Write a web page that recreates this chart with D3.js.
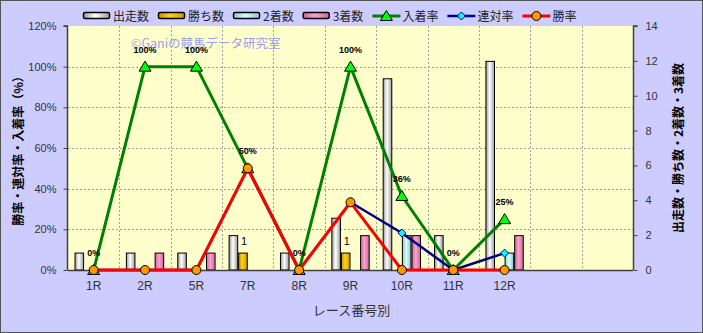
<!DOCTYPE html>
<html>
<head>
<meta charset="utf-8">
<script src="https://cdn.jsdelivr.net/npm/d3@7"></script>
<style>
  body { margin: 0; background: #ccccff; }
  svg { display: block; }
</style>
</head>
<body>
<svg id="chart" width="703" height="333"></svg>
<script>
// race categories (two empty slots at the end of the axis)
var races = ["1R", "2R", "5R", "7R", "8R", "9R", "10R", "11R", "12R"];
var slotCount = 11;

// bar series (right axis, counts)
var starts  = [1, 1, 1, 2, 1, 3, 11, 2, 12];
var wins    = [0, 0, 0, 1, 0, 1, 0, 0, 0];
var seconds = [0, 0, 0, 0, 0, 0, 2, 0, 1];
var thirds  = [0, 1, 1, 0, 0, 2, 2, 0, 2];

// line series (left axis, %)
var placeRate  = [0, 100, 100, 50, 0, 100, 36.4, 0, 25];
var rentaiRate = [0, 0, 0, 50, 0, 33.3, 18.2, 0, 8.3];
var winRate    = [0, 0, 0, 50, 0, 33.3, 0, 0, 0];

var leftTicks = [0, 20, 40, 60, 80, 100, 120];
var rightTicks = [0, 2, 4, 6, 8, 10, 12, 14];

var margin = {left: 68, right: 70, top: 26, bottom: 63};
var W = 703, H = 333;
var pLeft = margin.left, pRight = W - margin.right, pTop = margin.top, pBottom = H - margin.bottom;

var svg = d3.select("#chart");
var font = "'Liberation Sans', 'Noto Sans CJK JP', sans-serif";
var jfont = "'Noto Sans CJK JP', sans-serif";

// gradients for the bars
var defs = svg.append("defs");
var barStyles = [
    {key: "出走数", values: starts,  edge: "#9a9a9a", mid: "#ffffff"},
    {key: "勝ち数", values: wins,    edge: "#c89600", mid: "#ffd21a"},
    {key: "2着数",  values: seconds, edge: "#8cc8c8", mid: "#d8ffff"},
    {key: "3着数",  values: thirds,  edge: "#c8689a", mid: "#ffa0d0"}
];
barStyles.forEach(function (s, i) {
    var g = defs.append("linearGradient").attr("id", "grad" + i)
        .attr("x1", "0").attr("x2", "1").attr("y1", "0").attr("y2", "0");
    g.append("stop").attr("offset", "0%").attr("stop-color", s.edge);
    g.append("stop").attr("offset", "45%").attr("stop-color", s.mid);
    g.append("stop").attr("offset", "100%").attr("stop-color", s.edge);
});

// frame
svg.append("rect").attr("x", 0.5).attr("y", 0.5).attr("width", W - 1).attr("height", H - 1)
    .attr("fill", "#ccccff").attr("stroke", "#555");

// plot background
svg.append("rect").attr("x", pLeft).attr("y", pTop).attr("width", pRight - pLeft).attr("height", pBottom - pTop)
    .attr("fill", "#ffffcc");

// scales
var x = d3.scaleBand().domain(d3.range(slotCount)).range([pLeft, pRight]);
var xi = d3.scaleBand().domain(d3.range(barStyles.length)).range([0, x.bandwidth()]).paddingOuter(0.68);
var y = d3.scaleLinear().domain([0, 120]).range([pBottom, pTop]);
var y2 = d3.scaleLinear().domain([0, 14]).range([pBottom, pTop]);

// grid
svg.append("g").selectAll("line").data(leftTicks.slice(1, -1)).enter().append("line")
    .attr("x1", pLeft).attr("x2", pRight)
    .attr("y1", function (d) { return Math.round(y(d)) + 0.5; })
    .attr("y2", function (d) { return Math.round(y(d)) + 0.5; })
    .attr("stroke", "#a0a0a0").attr("stroke-dasharray", "2,2");
svg.append("g").selectAll("line").data(d3.range(1, slotCount)).enter().append("line")
    .attr("x1", function (d) { return Math.round(x(d)) + 0.5; })
    .attr("x2", function (d) { return Math.round(x(d)) + 0.5; })
    .attr("y1", pTop).attr("y2", pBottom)
    .attr("stroke", "#a0a0a0").attr("stroke-dasharray", "2,2");

// watermark
svg.append("text").attr("x", 131).attr("y", 48)
    .attr("font-family", jfont).attr("font-size", "12.5px")
    .attr("fill", "#9d9df0").text("©Ganiの競馬データ研究室");

// bars
var barG = svg.append("g");
barStyles.forEach(function (s, si) {
    s.values.forEach(function (v, i) {
        if (v <= 0) return;
        barG.append("rect")
            .attr("x", x(i) + xi(si) + 0.5)
            .attr("y", y2(v) + 0.5)
            .attr("width", xi.bandwidth() - 1)
            .attr("height", pBottom - y2(v) - 0.5)
            .attr("fill", "url(#grad" + si + ")")
            .attr("stroke", "#000").attr("stroke-width", 1);
    });
});

// bar labels for 勝ち数
wins.forEach(function (v, i) {
    if (v <= 0) return;
    svg.append("text")
        .attr("x", x(i) + xi(1) + xi.bandwidth() / 2 + 1)
        .attr("y", y2(v) - 8)
        .attr("text-anchor", "middle")
        .attr("font-family", font).attr("font-size", "11px").attr("fill", "#000")
        .text(v);
});

// axes
var axisColor = "#404040";
var gl = svg.append("g").attr("transform", "translate(" + (pLeft - 0.5) + ",0)")
    .call(d3.axisLeft(y).tickValues(leftTicks).tickSize(4).tickPadding(7)
        .tickFormat(function (d) { return d + "%"; }));
var gr = svg.append("g").attr("transform", "translate(" + (pRight + 0.5) + ",0)")
    .call(d3.axisRight(y2).tickValues(rightTicks).tickSize(4).tickPadding(8));
var gb = svg.append("g").attr("transform", "translate(0," + (pBottom + 0.5) + ")")
    .call(d3.axisBottom(x).tickSize(0).tickPadding(11)
        .tickFormat(function (d) { return races[d] || ""; }));
[gl, gr, gb].forEach(function (g) {
    g.select(".domain").attr("stroke", axisColor).attr("stroke-width", 1.5);
    g.selectAll(".tick line").attr("stroke", axisColor);
    g.selectAll("text").attr("fill", "#333").attr("font-family", font).attr("font-size", "11px");
});
gb.select(".domain").attr("d", "M" + pLeft + ",0H" + pRight);
gb.selectAll("text").attr("font-size", "12px");
gl.select(".domain").attr("d", "M-4," + pTop + "H0V" + pBottom);
gr.select(".domain").attr("d", "M4," + pTop + "H0V" + pBottom);

// lines
var line = function (vals) {
    return d3.line()
        .x(function (d, i) { return x(i) + x.bandwidth() / 2; })
        .y(function (d) { return y(d); })(vals);
};
var lineSeries = [
    {key: "入着率", values: placeRate,  color: "#008000", width: 3,   marker: "triangle", fill: "#00ff00"},
    {key: "連対率", values: rentaiRate, color: "#000080", width: 2.5, marker: "diamond",  fill: "#00ffff"},
    {key: "勝率",   values: winRate,    color: "#ff0000", width: 3,   marker: "circle",   fill: "#ff9900"}
];
function drawMarker(g, type, fill, cx, cy) {
    if (type === "triangle") {
        g.append("path").attr("d", "M" + cx + "," + (cy - 5.5) + "L" + (cx + 6) + "," + (cy + 4.5) + "L" + (cx - 6) + "," + (cy + 4.5) + "Z")
            .attr("fill", fill).attr("stroke", "#000").attr("stroke-width", 1);
    } else if (type === "diamond") {
        g.append("path").attr("d", "M" + cx + "," + (cy - 4) + "L" + (cx + 4) + "," + cy + "L" + cx + "," + (cy + 4) + "L" + (cx - 4) + "," + cy + "Z")
            .attr("fill", fill).attr("stroke", "#000080").attr("stroke-width", 1);
    } else {
        g.append("circle").attr("cx", cx).attr("cy", cy).attr("r", 4.5)
            .attr("fill", fill).attr("stroke", "#000").attr("stroke-width", 1);
    }
}
lineSeries.forEach(function (s) {
    var g = svg.append("g");
    g.append("path").attr("d", line(s.values)).attr("fill", "none")
        .attr("stroke", s.color).attr("stroke-width", s.width).attr("stroke-linejoin", "round");
    s.values.forEach(function (v, i) {
        drawMarker(g, s.marker, s.fill, x(i) + x.bandwidth() / 2, y(v));
    });
});

// data labels on 入着率
placeRate.forEach(function (v, i) {
    svg.append("text")
        .attr("x", x(i) + x.bandwidth() / 2)
        .attr("y", y(v) - 14)
        .attr("text-anchor", "middle")
        .attr("font-family", font).attr("font-size", "9px").attr("font-weight", "bold")
        .attr("fill", "#000")
        .text(d3.format(".0f")(v) + "%");
});

// axis titles
svg.append("text")
    .attr("transform", "translate(23," + ((pTop + pBottom) / 2) + ") rotate(-90)")
    .attr("text-anchor", "middle").attr("font-family", jfont).attr("font-size", "12px")
    .attr("font-weight", "bold").attr("fill", "#000")
    .text("勝率・連対率・入着率（%）");
svg.append("text")
    .attr("transform", "translate(683," + ((pTop + pBottom) / 2) + ") rotate(-90)")
    .attr("text-anchor", "middle").attr("font-family", jfont).attr("font-size", "12px")
    .attr("font-weight", "bold").attr("fill", "#000")
    .text("出走数・勝ち数・2着数・3着数");
svg.append("text")
    .attr("x", (pLeft + pRight) / 2 + 1).attr("y", 315)
    .attr("text-anchor", "middle").attr("font-family", jfont).attr("font-size", "13px")
    .attr("fill", "#333").text("レース番号別");

// legend
var legend = svg.append("g");
var lx = 83, ly = 16;
barStyles.concat(lineSeries).forEach(function (s, i) {
    var g = legend.append("g");
    if (i < barStyles.length) {
        g.append("rect").attr("x", lx + 0.5).attr("y", ly - 3.5).attr("width", 26).attr("height", 6)
            .attr("rx", 1.5)
            .attr("fill", "url(#grad" + i + ")").attr("stroke", "#000").attr("stroke-width", 1.5);
    } else {
        g.append("line").attr("x1", lx).attr("x2", lx + 28).attr("y1", ly).attr("y2", ly)
            .attr("stroke", s.color).attr("stroke-width", s.width);
        drawMarker(g, s.marker, s.fill, lx + 14, ly);
    }
    var t = g.append("text").attr("x", lx + 30).attr("y", ly + 5)
        .attr("font-family", jfont).attr("font-size", "12px").attr("fill", "#222")
        .text(s.key);
    lx += 30 + t.node().getComputedTextLength() + 9;
});
</script>
</body>
</html>
